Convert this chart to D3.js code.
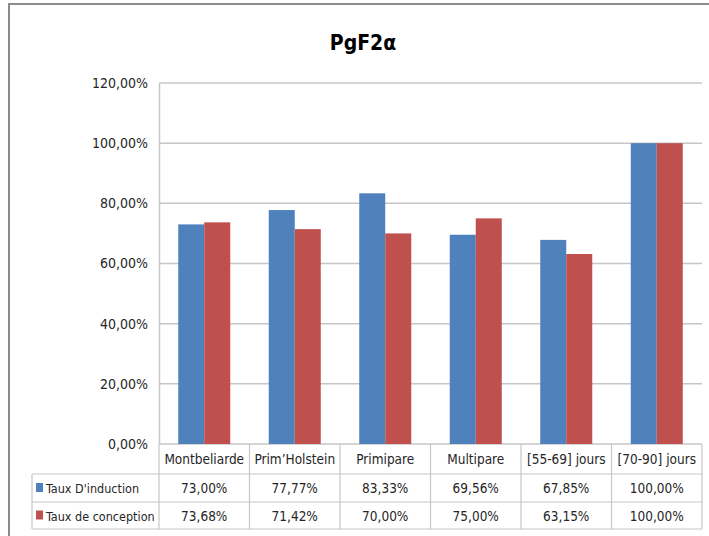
<!DOCTYPE html>
<html><head><meta charset="utf-8">
<script src="https://cdn.jsdelivr.net/npm/d3@7"></script>
<style>
body{margin:0;background:#fff;}
svg{display:block;}
text{font-family:"Liberation Sans Narrow","DejaVu Sans Condensed","Open Sans",sans-serif;fill:#262626;}
</style></head>
<body>
<script>
const title = "PgF2α";
const categories = ["Montbeliarde","Prim’Holstein","Primipare","Multipare","[55-69] jours","[70-90] jours"];
const seriesNames = ["Taux D'induction","Taux de conception"];
const induction = [0.73, 0.7777, 0.8333, 0.6956, 0.6785, 1.00];
const conception = [0.7368, 0.7142, 0.70, 0.75, 0.6315, 1.00];
const yTicks = [0, 0.2, 0.4, 0.6, 0.8, 1.0, 1.2];
const colors = ["#4F81BD","#C0504D"];

(function(){
const W = 709, H = 536;
const svg = d3.select("body").append("svg").attr("width", W).attr("height", H);
const loc = d3.formatLocale({decimal:",", thousands:" ", grouping:[3], currency:["","€"]});
const fmt = loc.format(".2%");

const pL = 159, pR = 702, pT = 83, pB = 444;
const x0 = d3.scaleBand().domain(categories).range([pL, pR]).padding(0);
const x1 = d3.scaleBand().domain(seriesNames).range([0, x0.bandwidth()]).paddingInner(0).paddingOuter(0.74);
const y = d3.scaleLinear().domain([0, 1.2]).range([pB, pT]);

// outer frame
svg.append("path").attr("d", `M9,${H} V4 H${W}`).attr("fill","none").attr("stroke","#8c8c8c").attr("stroke-width",2);

// title
svg.append("text").attr("x", 363).attr("y", 50).attr("text-anchor","middle")
  .style("font-size","21px").style("font-weight","bold").style("fill","#000").text(title);

// gridlines
svg.append("g").selectAll("line").data(yTicks).join("line")
  .attr("x1", pL).attr("x2", pR).attr("y1", d=>y(d)).attr("y2", d=>y(d))
  .attr("stroke","#c6c6c6").attr("stroke-width",1.5);

// y axis
const yAxis = d3.axisLeft(y).tickValues(yTicks).tickFormat(fmt).tickSize(0).tickPadding(11);
const ga = svg.append("g").attr("transform",`translate(${pL},0)`).call(yAxis);
ga.select(".domain").attr("stroke","#c6c6c6").attr("stroke-width",1.5);
ga.selectAll("text").style("font-size","14px").style("font-family",'"Liberation Sans Narrow","DejaVu Sans Condensed",sans-serif').attr("fill","#262626");

// bars
const series = [induction, conception];
const gb = svg.append("g");
series.forEach((vals, si) => {
  gb.append("g").selectAll("rect").data(vals).join("rect")
    .attr("x", (d,i)=> x0(categories[i]) + x1(seriesNames[si]))
    .attr("width", x1.bandwidth())
    .attr("y", d=>y(d))
    .attr("height", d=> y(0)-y(d))
    .attr("fill", colors[si]);
});

// data table
const tLeft = 32, r0 = pB, r1 = 474, r2 = 502, r3 = 529;
const tg = svg.append("g").attr("stroke","#c6c6c6").attr("stroke-width",1.2);
[r1, r2, r3].forEach(ry => tg.append("line").attr("x1", tLeft).attr("x2", pR).attr("y1", ry).attr("y2", ry));
tg.append("line").attr("x1", tLeft).attr("x2", tLeft).attr("y1", r1).attr("y2", r3);
const bounds = categories.map(c => x0(c)).concat([pR]);
tg.selectAll("line.v").data(bounds).join("line").attr("class","v")
  .attr("x1", d=>d).attr("x2", d=>d).attr("y1", r0).attr("y2", r3);

const cx = c => x0(c) + x0.bandwidth()/2;
svg.append("g").selectAll("text").data(categories).join("text")
  .attr("x", d=>cx(d)).attr("y", (r0+r1)/2 + 5).attr("text-anchor","middle")
  .style("font-size","13.5px").text(d=>d);

const rowsY = [(r1+r2)/2 + 5, (r2+r3)/2 + 5];
series.forEach((vals, si) => {
  svg.append("g").selectAll("text").data(vals).join("text")
    .attr("x", (d,i)=>cx(categories[i])).attr("y", rowsY[si]).attr("text-anchor","middle")
    .style("font-size","13.5px").text(d=>fmt(d));
  svg.append("rect").attr("x", 36).attr("y", rowsY[si]-10).attr("width", 7).attr("height", 9).attr("fill", colors[si]);
  svg.append("text").attr("x", 46).attr("y", rowsY[si]).style("font-size","12.5px").text(seriesNames[si]);
});
})();
</script>
</body></html>
